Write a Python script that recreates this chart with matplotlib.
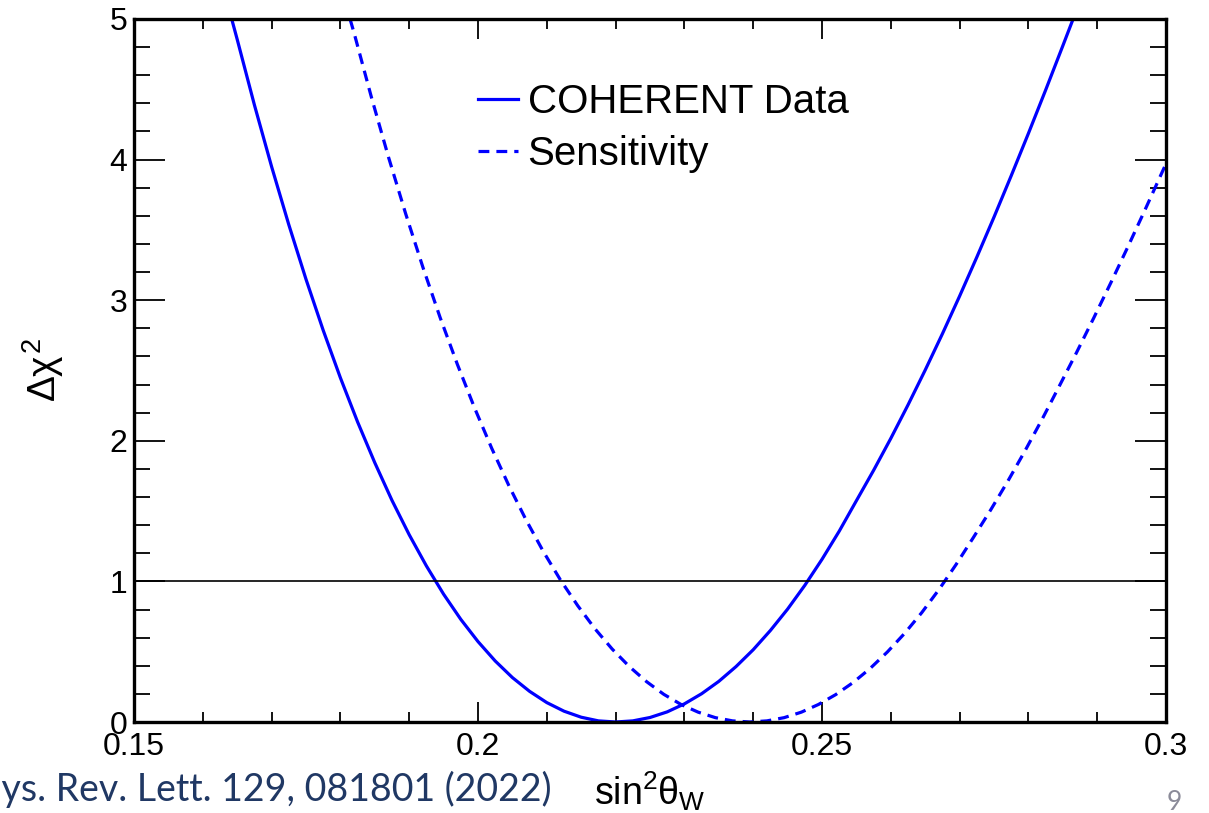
import matplotlib
matplotlib.use("Agg")
import matplotlib.pyplot as plt
from matplotlib.ticker import MultipleLocator

# values
data_x = [0.1642, 0.1650, 0.1675, 0.1700, 0.1725, 0.1750, 0.1775, 0.1800, 0.1825,
          0.1850, 0.1875, 0.1900, 0.1925, 0.1950, 0.1975, 0.2000, 0.2025, 0.2050,
          0.2075, 0.2100, 0.2125, 0.2150, 0.2175, 0.2200, 0.2225, 0.2250, 0.2275,
          0.2300, 0.2325, 0.2350, 0.2375, 0.2400, 0.2425, 0.2450, 0.2475, 0.2500,
          0.2525, 0.2550, 0.2575, 0.2600, 0.2625, 0.2650, 0.2675, 0.2700, 0.2725,
          0.2750, 0.2775, 0.2800, 0.2825, 0.2850, 0.2865]
data_chi2 = [5.000, 4.855, 4.389, 3.950, 3.537, 3.149, 2.786, 2.448, 2.134,
             1.844, 1.576, 1.332, 1.110, 0.909, 0.730, 0.572, 0.434, 0.316,
             0.218, 0.138, 0.077, 0.034, 0.008, 0.000, 0.008, 0.032, 0.072,
             0.129, 0.201, 0.289, 0.394, 0.514, 0.651, 0.803, 0.972, 1.157,
             1.357, 1.574, 1.790, 2.017, 2.255, 2.503, 2.761, 3.029, 3.306,
             3.591, 3.885, 4.186, 4.494, 4.809, 5.000]

sens_x = [0.1814, 0.1820, 0.1845, 0.1870, 0.1895, 0.1920, 0.1945, 0.1970, 0.1995,
          0.2020, 0.2045, 0.2070, 0.2095, 0.2120, 0.2145, 0.2170, 0.2195, 0.2220,
          0.2245, 0.2270, 0.2295, 0.2320, 0.2345, 0.2370, 0.2395, 0.2420, 0.2445,
          0.2470, 0.2495, 0.2520, 0.2545, 0.2570, 0.2595, 0.2620, 0.2645, 0.2670,
          0.2695, 0.2720, 0.2745, 0.2770, 0.2795, 0.2820, 0.2845, 0.2870, 0.2895,
          0.2920, 0.2945, 0.2970, 0.3000]
sens_chi2 = [5.000, 4.899, 4.445, 4.016, 3.613, 3.233, 2.876, 2.544, 2.234,
             1.946, 1.680, 1.436, 1.212, 1.009, 0.827, 0.663, 0.519, 0.394,
             0.287, 0.197, 0.125, 0.070, 0.031, 0.008, 0.000, 0.008, 0.031,
             0.070, 0.125, 0.195, 0.280, 0.381, 0.498, 0.630, 0.778, 0.942,
             1.121, 1.312, 1.507, 1.712, 1.928, 2.154, 2.390, 2.628, 2.874,
             3.126, 3.384, 3.648, 3.971]

ref_level = 1.0
x_ticks = [0.15, 0.2, 0.25, 0.3]
x_ticklabels = ["0.15", "0.2", "0.25", "0.3"]
y_ticks = [0, 1, 2, 3, 4, 5]
y_ticklabels = ["0", "1", "2", "3", "4", "5"]

plt.rcParams['font.family'] = ['Liberation Sans', 'DejaVu Sans']
plt.rcParams['mathtext.fontset'] = 'custom'
plt.rcParams['mathtext.rm'] = 'Liberation Sans'
plt.rcParams['mathtext.it'] = 'Liberation Sans'
plt.rcParams['mathtext.bf'] = 'Liberation Sans:bold'

W, H = 1209, 813
fig = plt.figure(figsize=(W / 100, H / 100), dpi=100)
ax = fig.add_axes([134 / W, 1 - 722 / H, (1166 - 134) / W, (722 - 19) / H])

ax.plot(data_x, data_chi2, color='#0000ff', linewidth=2.3, label='COHERENT Data')
ax.plot(sens_x, sens_chi2, color='#0000ff', linewidth=2.3,
        linestyle=(0, (3.4, 2.2)), label='Sensitivity')
ax.axhline(ref_level, color='#000000', linewidth=1.2)

ax.set_xlim(0.15, 0.3)
ax.set_ylim(0, 5)
ax.set_xticks(x_ticks)
ax.set_xticklabels(x_ticklabels, fontsize=23)
ax.set_yticks(y_ticks)
ax.set_yticklabels(y_ticklabels, fontsize=23)
ax.xaxis.set_minor_locator(MultipleLocator(0.01))
ax.yaxis.set_minor_locator(MultipleLocator(0.2))

for s in ax.spines.values():
    s.set_linewidth(2.4)
ax.tick_params(which='both', direction='in', top=True, right=True, width=1.3)
ax.tick_params(axis='x', which='major', length=14.5, pad=7)
ax.tick_params(axis='x', which='minor', length=7.5)
ax.tick_params(axis='y', which='major', length=22, pad=5)
ax.tick_params(axis='y', which='minor', length=11.5)

ax.set_xlabel(r'$\mathrm{sin}^{2}\theta_{\mathrm{W}}$', fontsize=27, labelpad=5)
ax.set_ylabel(r'$\Delta\chi^{2}$', fontsize=28)
ax.yaxis.set_label_coords(-0.066, 0.5)

leg = ax.legend(loc='upper left', bbox_to_anchor=(0.3135, 0.937), frameon=False,
                fontsize=29, handlelength=1.0, handletextpad=0.24, labelspacing=0.33,
                borderpad=0)

fig.text(552 / W, 1 - 801 / H, 'Phys. Rev. Lett. 129, 081801 (2022)', ha='right',
         va='baseline', fontsize=27, color='#203864', family='Lato')
fig.text(1167 / W, 1 - 810 / H, '9', ha='left', va='baseline', fontsize=19,
         color='#8b8b99', family='Lato')

fig.savefig('out.png', dpi=100)
